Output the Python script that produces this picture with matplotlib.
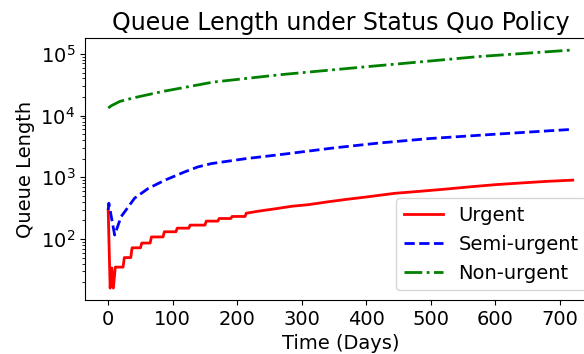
import matplotlib
matplotlib.use("Agg")
import matplotlib.pyplot as plt

urgent_days = [0, 3, 5.5, 8, 11, 23, 25, 35, 37, 50, 52, 65, 67, 85, 87, 105, 107,
               125, 127, 150, 152, 170, 172, 190, 192, 212, 214, 235, 260, 285, 310,
               340, 370, 400, 444, 480, 520, 560, 600, 640, 680, 720]
urgent_vals = [295, 16, 34, 16, 35, 35, 50, 50, 72, 72, 86, 86, 108, 108, 131, 131,
               150, 150, 168, 168, 195, 195, 215, 215, 232, 232, 262, 285, 310, 340,
               360, 400, 440, 480, 550, 590, 640, 700, 760, 810, 860, 900]

semi_days = [0, 1, 10, 20, 41, 62, 88, 119, 139, 160, 212, 266, 350, 420, 498, 600, 680, 720]
semi_vals = [295, 380, 116, 230, 460, 660, 900, 1230, 1475, 1670, 2000, 2330, 3000,
             3600, 4250, 5000, 5650, 6000]

non_days = [0, 5, 18, 40, 85, 163, 266, 400, 500, 576, 650, 720]
non_vals = [13300, 14500, 17000, 19500, 24700, 35000, 46000, 62000, 77000, 91000,
            103000, 116000]

fig = plt.figure(figsize=(5.84, 3.54), dpi=100)
ax = fig.add_axes([0.1455, 0.1525, 0.875, 0.740])
ax.plot(urgent_days, urgent_vals, color="red", lw=2, ls="-", label="Urgent")
ax.plot(semi_days, semi_vals, color="blue", lw=2, ls="--", label="Semi-urgent")
ax.plot(non_days, non_vals, color="green", lw=2, ls="-.", label="Non-urgent")
ax.set_yscale("log")
ax.set_xticks([0, 100, 200, 300, 400, 500, 600, 700])
ax.tick_params(labelsize=14)
ax.set_xlabel("Time (Days)", fontsize=14)
ax.set_ylabel("Queue Length", fontsize=14)
ax.set_title("Queue Length under Status Quo Policy", fontsize=17)
ax.legend(loc="lower right", fontsize=14)
fig.savefig("out.png", dpi=100)
